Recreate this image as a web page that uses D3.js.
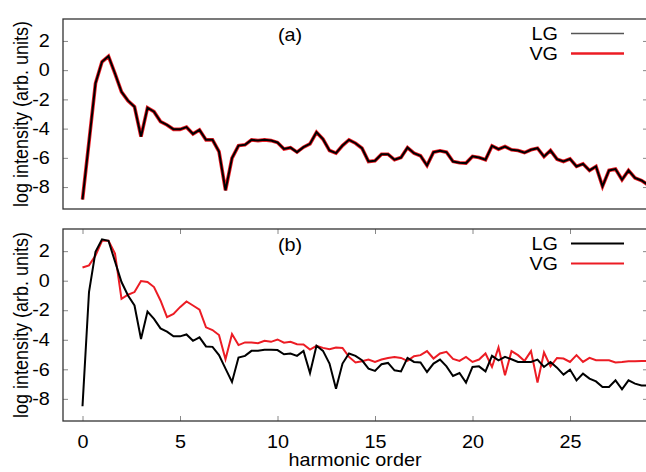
<!DOCTYPE html>
<html>
<head>
<meta charset="utf-8">
<script src="https://cdn.jsdelivr.net/npm/d3@7"></script>
<style>
  html, body { margin: 0; padding: 0; background: #fff; }
  svg { display: block; }
  text { font-family: "Liberation Sans", Arial, Helvetica, sans-serif; fill: #000; }
</style>
</head>
<body>
<svg id="chart" width="646" height="472"></svg>
<script>
// ---------------- data (harmonic order step = 1/3) ----------------
const harmonicStep = 1 / 3;
const xTicks = [0, 5, 10, 15, 20, 25];
const yTicks = [2, 0, -2, -4, -6, -8];
const seriesNames = ["LG", "VG"];
const panelLabels = ["(a)", "(b)"];
const xLabel = "harmonic order";
const yLabel = "log intensity (arb. units)";

// panel (a): LG and VG coincide
const topLG = [
  -8.85, -4.9, -0.9, 0.57, 0.95, -0.23, -1.48, -2.09, -2.5, -4.55,
  -2.57, -2.84, -3.52, -3.75, -4.05, -4.05, -3.9, -4.36, -4.09, -4.77,
  -4.77, -5.57, -8.22, -6.02, -5.16, -5.11, -4.77, -4.82, -4.77, -4.82,
  -4.95, -5.39, -5.3, -5.61, -5.27, -5.04, -4.25, -4.72, -5.5, -5.68,
  -5.16, -4.77, -5.0, -5.34, -6.25, -6.2, -5.75, -5.75, -6.13, -5.98,
  -5.3, -5.68, -5.86, -6.52, -5.61, -5.52, -5.61, -6.25, -6.34, -6.36,
  -5.9, -5.98, -6.13, -5.18, -5.41, -5.23, -5.45, -5.5, -5.64, -5.45,
  -5.34, -5.91, -5.5, -6.09, -6.25, -6.07, -6.59, -6.41, -6.86, -6.59,
  -7.95, -6.86, -6.77, -7.5, -6.86, -7.38, -7.55, -7.85
];
const topVG = [
  -8.85, -4.9, -0.9, 0.57, 0.95, -0.23, -1.48, -2.09, -2.5, -4.55,
  -2.57, -2.84, -3.52, -3.75, -4.05, -4.05, -3.9, -4.36, -4.09, -4.77,
  -4.77, -5.57, -8.22, -6.02, -5.16, -5.11, -4.77, -4.82, -4.77, -4.82,
  -4.95, -5.39, -5.3, -5.61, -5.27, -5.04, -4.25, -4.72, -5.5, -5.68,
  -5.16, -4.77, -5.0, -5.34, -6.25, -6.2, -5.75, -5.75, -6.13, -5.98,
  -5.3, -5.68, -5.86, -6.52, -5.61, -5.52, -5.61, -6.25, -6.34, -6.36,
  -5.9, -5.98, -6.13, -5.18, -5.41, -5.23, -5.45, -5.5, -5.64, -5.45,
  -5.34, -5.91, -5.5, -6.09, -6.25, -6.07, -6.59, -6.41, -6.86, -6.59,
  -7.95, -6.86, -6.77, -7.5, -6.86, -7.38, -7.55, -7.85
];

// panel (b)
const botLG = [
  -8.5, -0.77, 1.96, 2.8, 2.7, 1.3, -0.09, -1.0, -1.68, -3.95,
  -2.09, -2.59, -3.23, -3.45, -3.77, -3.77, -3.64, -4.07, -3.84, -4.45,
  -4.48, -5.04, -5.95, -6.86, -5.2, -5.09, -4.75, -4.75, -4.68, -4.68,
  -4.7, -4.98, -4.93, -5.09, -4.75, -6.25, -4.41, -4.75, -5.61, -7.32,
  -5.61, -4.93, -5.09, -5.39, -5.95, -6.11, -5.66, -5.57, -6.07, -6.14,
  -5.23, -5.5, -5.54, -6.18, -5.61, -5.34, -5.8, -6.45, -6.25, -6.9,
  -5.84, -5.8, -6.14, -5.09, -5.39, -5.16, -5.32, -5.5, -5.5, -5.5,
  -5.34, -5.84, -5.5, -5.89, -6.36, -6.02, -6.75, -6.29, -6.63, -6.82,
  -7.2, -7.2, -6.75, -7.36, -6.75, -6.97, -7.09, -7.09
];
const botVG = [
  0.89, 1.04, 1.7, 2.7, 2.7, 1.84, -1.23, -0.95, -0.77, -0.02,
  -0.09, -0.43, -1.34, -2.47, -2.25, -1.79, -1.41, -1.68, -1.96, -3.16,
  -3.34, -3.68, -5.32, -3.61, -4.36, -4.18, -4.18, -4.23, -4.07, -4.14,
  -3.98, -4.2, -4.14, -4.3, -4.32, -4.66, -4.41, -4.55, -4.64, -4.52,
  -4.55, -5.16, -5.54, -5.45, -5.34, -5.5, -5.34, -5.23, -5.16, -5.23,
  -5.43, -5.11, -5.04, -4.77, -5.27, -4.93, -4.82, -5.3, -5.43, -5.16,
  -5.5, -5.34, -4.93, -5.84, -4.52, -6.41, -4.77, -5.04, -5.43, -4.77,
  -6.9, -4.86, -5.8, -5.23, -5.27, -5.5, -5.04, -5.5, -5.23, -5.39,
  -5.39, -5.39, -5.54, -5.5, -5.45, -5.45, -5.43, -5.45
];

// ---------------- layout ----------------
const svg = d3.select("#chart");
const left = 63, right = 648;
const FS = 18, SX = 1.1;
const RED = "#ec1c24";

const x = d3.scaleLinear().domain([-1, 29]).range([left, right]);

const panels = [
  { top: 19, bottom: 209, lg: topLG, vg: topVG, label: panelLabels[0], xticks: false,
    vgWidth: 3.6, lgWidth: 2, legendLG: "#555", legendLGw: 1.6, legendVGw: 2.4 },
  { top: 229, bottom: 421, lg: botLG, vg: botVG, label: panelLabels[1], xticks: true,
    vgWidth: 2, lgWidth: 2, legendLG: "#000", legendLGw: 2, legendVGw: 2 }
];

function hText(g, px, py, str, anchor) {
  return g.append("text")
    .attr("transform", `translate(${px},${py}) scale(${SX},1)`)
    .attr("text-anchor", anchor)
    .attr("font-size", FS)
    .text(str);
}

panels.forEach((p, i) => {
  const y = d3.scaleLinear().domain([-9.5, 3.5]).range([p.bottom, p.top]);
  const g = svg.append("g");

  const clipId = "clip" + i;
  svg.append("clipPath").attr("id", clipId)
    .append("rect").attr("x", left).attr("y", p.top)
    .attr("width", right - left).attr("height", p.bottom - p.top);

  // y axis (left, inward ticks, labels)
  const ya = g.append("g").attr("transform", `translate(${left},0)`)
    .call(d3.axisLeft(y).tickValues(yTicks).tickSize(-5).tickPadding(12).tickFormat(d3.format("d")));
  ya.select(".domain").remove();
  ya.selectAll(".tick line").attr("stroke", "#888");
  ya.selectAll(".tick text")
    .attr("font-size", FS).attr("font-family", "Liberation Sans, Arial, sans-serif")
    .attr("fill", "#000")
    .attr("transform", `scale(${SX},1)`)
    .text(d => d < 0 ? "-" + Math.abs(d) : d);

  // mirror ticks on the right
  const yr = g.append("g").attr("transform", `translate(${right},0)`)
    .call(d3.axisRight(y).tickValues(yTicks).tickSize(-5).tickFormat(""));
  yr.select(".domain").remove();
  yr.selectAll(".tick line").attr("stroke", "#888");

  if (p.xticks) {
    const xa = g.append("g").attr("transform", `translate(0,${p.bottom})`)
      .call(d3.axisBottom(x).tickValues(xTicks).tickSize(-5).tickPadding(14));
    xa.select(".domain").remove();
    xa.selectAll(".tick line").attr("stroke", "#888");
    xa.selectAll(".tick text")
      .attr("font-size", FS).attr("font-family", "Liberation Sans, Arial, sans-serif")
      .attr("fill", "#000")
      .attr("transform", `scale(${SX},1)`);
    const xt = g.append("g").attr("transform", `translate(0,${p.top})`)
      .call(d3.axisTop(x).tickValues(xTicks).tickSize(-5).tickFormat(""));
    xt.select(".domain").remove();
    xt.selectAll(".tick line").attr("stroke", "#888");
  }

  // lines
  const line = d3.line().x((d, k) => x(k * harmonicStep)).y(d => y(d));
  const plot = g.append("g").attr("clip-path", `url(#${clipId})`);
  plot.append("path").datum(p.vg).attr("d", line)
    .attr("fill", "none").attr("stroke", RED).attr("stroke-width", p.vgWidth)
    .attr("stroke-linejoin", "miter");
  plot.append("path").datum(p.lg).attr("d", line)
    .attr("fill", "none").attr("stroke", "#000").attr("stroke-width", p.lgWidth)
    .attr("stroke-linejoin", "miter");

  // frame
  g.append("rect").attr("x", left).attr("y", p.top)
    .attr("width", right - left).attr("height", p.bottom - p.top)
    .attr("fill", "none").attr("stroke", "#333").attr("stroke-width", 1.3);

  // panel label
  hText(g, 290, p.top + 22, p.label, "middle");

  // legend
  const ly1 = p.top + 14.5, ly2 = p.top + 34.5;
  hText(g, 558, ly1 + 6, seriesNames[0], "end");
  hText(g, 558, ly2 + 6, seriesNames[1], "end");
  g.append("line").attr("x1", 571).attr("x2", 624).attr("y1", ly1).attr("y2", ly1)
    .attr("stroke", p.legendLG).attr("stroke-width", p.legendLGw);
  g.append("line").attr("x1", 571).attr("x2", 624).attr("y1", ly2).attr("y2", ly2)
    .attr("stroke", RED).attr("stroke-width", p.legendVGw);

  // y label
  svg.append("text")
    .attr("transform", `translate(28,${(p.top + p.bottom) / 2}) rotate(-90) scale(1,${SX})`)
    .attr("text-anchor", "middle").attr("font-size", FS)
    .text(yLabel);
});

// x label
hText(svg, 355, 466, xLabel, "middle");
</script>
</body>
</html>
